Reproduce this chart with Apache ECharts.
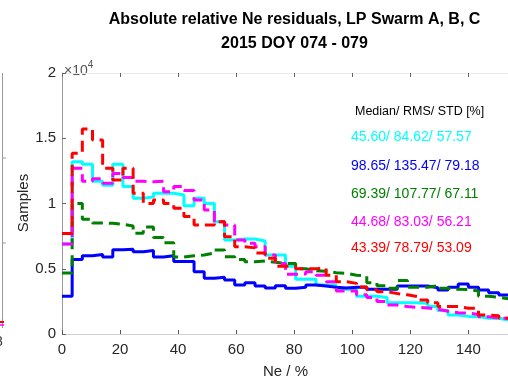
<!DOCTYPE html>
<html>
<head>
<meta charset="utf-8">
<script src="https://cdn.jsdelivr.net/npm/echarts@6/dist/echarts.min.js"></script>
<style>html,body{margin:0;padding:0;background:#fff;}#c{width:508px;height:379px;}</style>
</head>
<body>
<div id="c"></div>
<script>
// Bin width of the histogram (Ne %), bins start at 0
const binWidth = 3.5;
// Counts per bin (samples)
const cyanVals = [6900,13200,13000,11700,11400,13000,11300,10400,10500,10780,10780,10650,9830,10400,10000,8600,7200,7280,7280,7130,6050,6050,5200,4200,4200,3750,3750,3420,3420,2900,2900,2800,2400,2400,2400,2350,2100,1800,1450,1350,1330,1200,1200,1070,1000];
const blueVals = [2900,5700,6000,6100,5900,6450,6500,6300,6400,5900,6000,5550,5550,4770,4270,4340,4140,3750,3930,3680,3520,3700,3500,3580,3750,3680,3580,3520,3580,3580,3420,3420,3420,3680,3680,3680,3550,3370,3580,3830,3580,3370,3170,2990,2950];
const greenVals = [4670,10000,8800,8500,8480,8400,8280,7720,8200,7400,7000,5900,6000,6050,6200,6440,5920,5700,5540,5600,5500,5400,5400,5000,4850,4800,4700,4650,4500,4440,3930,3700,3500,4100,3580,3580,3700,3500,3420,3400,3300,2900,2800,2700,2700];
const magentaVals = [6900,12700,11700,11900,11550,12300,12000,11700,11670,11700,10900,11300,11000,10270,9500,8600,8350,7200,6950,6690,6050,5400,4570,4600,4770,4500,4000,3300,3300,3000,2800,2500,2220,2100,2040,2000,1900,1750,1630,1600,1500,1330,1200,1200,1100];
const redVals = [7700,13850,15710,14870,12700,11800,12700,10780,10000,10270,10000,9630,9000,8350,8350,8600,7450,6690,6600,6200,5800,5200,5160,5000,5000,5030,4500,4000,3880,3600,3400,3240,3100,3000,2860,2600,2400,2100,2100,1970,1970,1460,1400,1200,1100];
// Axis range and ticks
const xMin = 0, xMax = 154, xStep = 20;
const yMin = 0, yMax = 20000, yStep = 5000;
// Statistics text
const statsHeader = 'Median/ RMS/ STD [%]';
const statsLines = ['45.60/ 84.62/ 57.57','98.65/ 135.47/ 79.18','69.39/ 107.77/ 67.11','44.68/ 83.03/ 56.21','43.39/ 78.79/ 53.09'];
const colors = ['#00ffff','#0000ff','#008000','#ff00ff','#ff0000'];
const seriesVals = [cyanVals, blueVals, greenVals, magentaVals, redVals];
const dashed = [false,false,true,true,true];

function stairs(vals){
  const pts = vals.map((v,i)=>[i*binWidth, v]);
  pts.push([vals.length*binWidth, vals[vals.length-1]]);
  return pts;
}

const chart = echarts.init(document.getElementById('c'), null, {renderer:'canvas'});
const font = "'Liberation Sans', Arial, Helvetica, sans-serif";
const gridL = 62, gridT = 73, gridW = 447, gridH = 261;
const series = seriesVals.map((vals,k)=>({
  type:'line', step:'end', data: stairs(vals), showSymbol:false, clip:true,
  lineStyle:{color:colors[k], width:3, type: dashed[k] ? [11,6] : 'solid'},
  itemStyle:{color:colors[k]}, z: 2+k, animation:false
}));

const graphics = [
  {type:'text', style:{text:'Absolute relative Ne residuals, LP Swarm A, B, C', x:294.5, y:20, textAlign:'center', textVerticalAlign:'middle', font:'bold 16px '+font, fill:'#000'}},
  {type:'text', style:{text:'2015 DOY 074 - 079', x:294.5, y:44, textAlign:'center', textVerticalAlign:'middle', font:'bold 16px '+font, fill:'#000'}},
  {type:'text', style:{text:'{a|\u00d710}{b|4}', x:64, y:60, rich:{a:{fontSize:14, fontFamily:font, fill:'#555', padding:[4,0,0,0]}, b:{fontSize:10, fontFamily:font, fill:'#555', verticalAlign:'top', padding:[0,0,6,0]}}}},
  {type:'text', style:{text:statsHeader, x:355, y:112, textVerticalAlign:'middle', font:'12.5px '+font, fill:'#000'}},
  {type:'text', x:24, y:203, rotation:Math.PI/2, style:{text:'Samples', x:0, y:0, textAlign:'center', textVerticalAlign:'middle', font:'15px '+font, fill:'#262626'}}
];
const statY = [137,166,194,222,248];
statsLines.forEach((t,i)=>graphics.push({type:'text', style:{text:t, x:351, y:statY[i], textVerticalAlign:'middle', font:'14px '+font, fill:colors[i]}}));
// neighbouring panel edge on the far left
graphics.push({type:'line', shape:{x1:2.5,y1:73,x2:2.5,y2:328}, style:{stroke:'#999', lineWidth:1}});
graphics.push({type:'line', shape:{x1:2.5,y1:158,x2:6,y2:158}, style:{stroke:'#999', lineWidth:1}});
graphics.push({type:'line', shape:{x1:2.5,y1:243,x2:6,y2:243}, style:{stroke:'#999', lineWidth:1}});
graphics.push({type:'line', shape:{x1:0,y1:322,x2:4,y2:322}, style:{stroke:'#ff0000', lineWidth:2}});
graphics.push({type:'line', shape:{x1:0,y1:325,x2:4,y2:325}, style:{stroke:'#ff00ff', lineWidth:1.5}});
graphics.push({type:'text', style:{text:'8', x:-5, y:342, textVerticalAlign:'middle', font:'14px '+font, fill:'#333'}});

const xLabelFmt = v => (v % xStep === 0 ? String(v) : '');

chart.setOption({
  animation:false,
  backgroundColor:'#fff',
  grid:{left:gridL, top:gridT, width:gridW, height:gridH, containLabel:false, outerBoundsMode:'none'},
  xAxis:[{
    type:'value', min:xMin, max:xMax, interval:xStep,
    name:'Ne / %', nameLocation:'middle', nameGap:30,
    nameTextStyle:{fontSize:15, fontFamily:font, color:'#262626'},
    axisLine:{show:true, lineStyle:{color:'#d0d0d0', width:1}},
    axisTick:{show:true, inside:true, length:4, lineStyle:{color:'#555'}},
    axisLabel:{fontSize:15, fontFamily:font, color:'#262626', margin:8, formatter:xLabelFmt, showMaxLabel:false},
    splitLine:{show:false}
  },{
    type:'value', position:'top', min:xMin, max:xMax, interval:xStep,
    axisLine:{show:true, lineStyle:{color:'#ebebeb', width:1}},
    axisTick:{show:true, inside:true, length:4, lineStyle:{color:'#666'}},
    axisLabel:{show:false}, splitLine:{show:false}
  }],
  yAxis:{
    type:'value', min:yMin, max:yMax, interval:yStep,
    axisLine:{show:true, lineStyle:{color:'#9a9a9a', width:1}},
    axisTick:{show:true, inside:true, length:4, lineStyle:{color:'#666'}},
    axisLabel:{fontSize:15, fontFamily:font, color:'#262626', margin:6, formatter:v=>String(v/10000)},
    splitLine:{show:false}
  },
  series: series,
  graphic: graphics
});
</script>
</body>
</html>
